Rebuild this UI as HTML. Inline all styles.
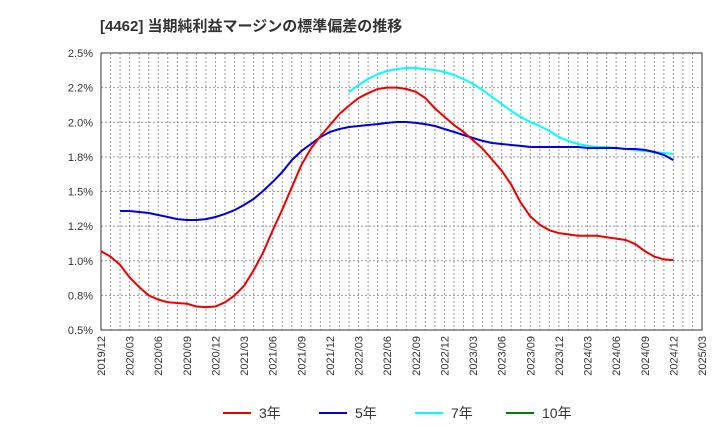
<!DOCTYPE html>
<html><head><meta charset="utf-8"><style>
body{margin:0;background:#fff;}
svg{display:block;font-family:"Liberation Sans","Noto Sans CJK JP",sans-serif;}
</style></head><body>
<svg id="c" width="720" height="440">
<text x="100" y="31" font-size="15" font-weight="bold" fill="#333">[4462]  当期純利益マージンの標準偏差の推移</text>
<g id="grid"></g><g id="axes"></g><g id="series"></g>
<g id="legend"></g>
</svg>
<script>
const yTicks=[0.5,0.75,1.0,1.25,1.5,1.75,2.0,2.25,2.5];
const yTickLabels=["0.5%","0.8%","1.0%","1.2%","1.5%","1.8%","2.0%","2.2%","2.5%"];
const xTickLabels=["2019/12","2020/03","2020/06","2020/09","2020/12","2021/03","2021/06","2021/09","2021/12","2022/03","2022/06","2022/09","2022/12","2023/03","2023/06","2023/09","2023/12","2024/03","2024/06","2024/09","2024/12","2025/03"];
const s3Start=0;
const s3=[1.07,1.03,0.97,0.88,0.81,0.75,0.72,0.70,0.695,0.69,0.67,0.665,0.67,0.70,0.75,0.82,0.93,1.06,1.22,1.37,1.53,1.69,1.81,1.90,1.98,2.06,2.12,2.175,2.21,2.24,2.25,2.25,2.24,2.22,2.175,2.10,2.04,1.98,1.93,1.87,1.81,1.73,1.65,1.55,1.42,1.32,1.26,1.22,1.20,1.19,1.18,1.18,1.18,1.17,1.16,1.15,1.12,1.07,1.03,1.01,1.005];
const s5Start=2;
const s5=[1.359,1.359,1.352,1.345,1.330,1.316,1.301,1.294,1.294,1.301,1.316,1.338,1.366,1.403,1.446,1.504,1.569,1.641,1.727,1.792,1.843,1.893,1.930,1.951,1.966,1.973,1.980,1.987,1.995,2.002,2.002,1.995,1.987,1.973,1.951,1.930,1.908,1.886,1.865,1.850,1.843,1.836,1.829,1.821,1.821,1.821,1.821,1.821,1.821,1.814,1.814,1.814,1.814,1.807,1.807,1.800,1.785,1.764,1.727];
const s7Start=26;
const s7=[2.218,2.269,2.312,2.348,2.370,2.384,2.392,2.392,2.384,2.377,2.363,2.341,2.312,2.276,2.233,2.182,2.132,2.081,2.038,2.002,1.973,1.937,1.893,1.865,1.843,1.829,1.821,1.821,1.814,1.807,1.800,1.792,1.785,1.778,1.771];
const L=101,R=702,T=53,B=330,NM=63;
const xs=m=>L+(R-L)*m/NM;
const ys=v=>B-(v-0.5)/2*(B-T);
const NS="http://www.w3.org/2000/svg";
function mk(tag,attrs,parent){const e=document.createElementNS(NS,tag);for(const k in attrs)e.setAttribute(k,attrs[k]);parent.appendChild(e);return e;}
const grid=document.getElementById('grid'),axes=document.getElementById('axes'),ser=document.getElementById('series'),leg=document.getElementById('legend');
for(let m=1;m<NM;m++){const l=mk('line',{x1:xs(m),x2:xs(m),y1:T,y2:B,stroke:'#999','stroke-dasharray':'2,2','stroke-width':1},grid);

}
yTicks.forEach((v,i)=>{if(i>0&&i<yTicks.length-1){const l=mk('line',{x1:L,x2:R,y1:ys(v),y2:ys(v),stroke:'#999','stroke-dasharray':'2,2','stroke-width':1},grid);

}
const t=mk('text',{x:L-8,y:ys(v)+4,'text-anchor':'end','font-size':11,fill:'#333'},axes);t.textContent=yTickLabels[i];

});
xTickLabels.forEach((s,i)=>{const x=xs(i*3);const t=mk('text',{x:x+4,y:B+6,'text-anchor':'end','font-size':11,fill:'#333',transform:`rotate(-90 ${x+4} ${B+6})`},axes);t.textContent=s;

});
const fr=mk('rect',{x:L,y:T,width:R-L,height:B-T,fill:'none',stroke:'#333','stroke-width':1},axes);


function line(arr,start,color,name){const d=arr.map((v,i)=>(i?'L':'M')+xs(start+i).toFixed(1)+','+ys(v).toFixed(1)).join('');
const p=mk('path',{d:d,fill:'none',stroke:color,'stroke-width':2,'stroke-linejoin':'round'},ser);

}
line(s7,s7Start,'#00ffff','series-7y');
line(s5,s5Start,'#0000dd','series-5y');
line(s3,s3Start,'#ee0000','series-3y');
const legItems=[["3年","#ee0000",223],["5年","#0000dd",319],["7年","#00ffff",415],["10年","#008000",506]];
legItems.forEach(it=>{const g=mk('g',{},leg);


mk('line',{x1:it[2],x2:it[2]+28,y1:413,y2:413,stroke:it[1],'stroke-width':2},g);
const t=mk('text',{x:it[2]+36,y:418,'font-size':14,fill:'#333'},g);t.textContent=it[0];});
</script>
</body></html>
